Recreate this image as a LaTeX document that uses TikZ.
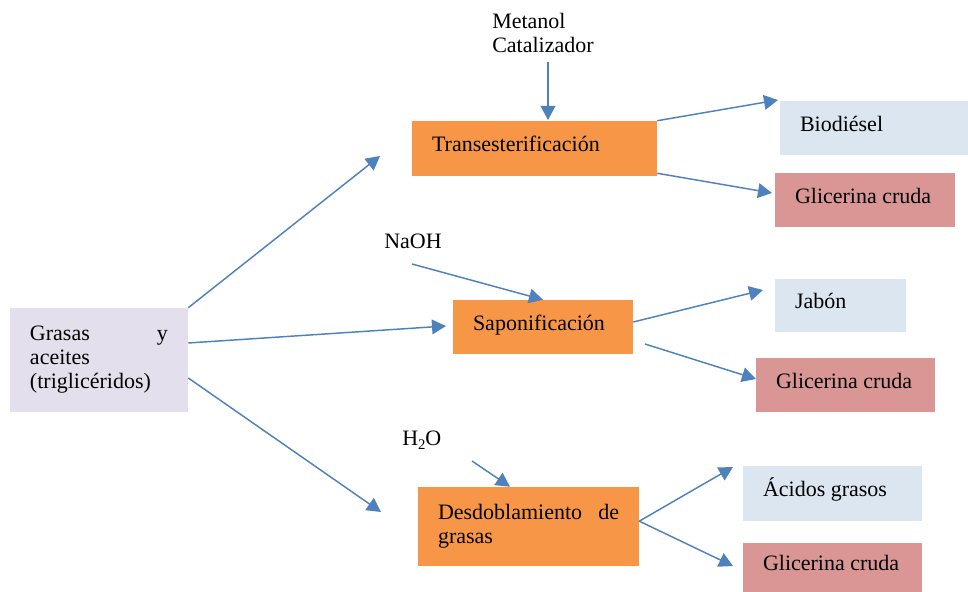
\documentclass[tikz,border=0pt]{standalone}
\usepackage{fontspec}
\setmainfont{Liberation Serif}
\usetikzlibrary{arrows.meta}
\definecolor{arrowblue}{HTML}{4F81BD}
\definecolor{feedlilac}{HTML}{E4DFEC}
\definecolor{procorange}{HTML}{F79646}
\definecolor{prodblue}{HTML}{DCE6F1}
\definecolor{prodrose}{HTML}{DA9694}
\newcommand{\bodyfont}{\fontsize{16.5}{18}\selectfont}
\begin{document}
\begin{tikzpicture}[x=0.75pt,y=-0.75pt,
  every node/.style={font=\bodyfont, text=black},
  boxbase/.style={draw=none, inner xsep=15pt, inner ysep=0pt, align=flush left, anchor=center},
  oneline/.style={text height=8pt, text depth=2.8pt},
  feed/.style={boxbase, fill=feedlilac},
  proc/.style={boxbase, fill=procorange},
  prodb/.style={boxbase, oneline, fill=prodblue},
  prodr/.style={boxbase, oneline, fill=prodrose},
  reagent/.style={inner sep=0pt, align=flush left},
  flow/.style={draw=arrowblue, line width=1.1pt, -{Triangle[length=10.5pt,width=11pt]}}]
\useasboundingbox (0,0) rectangle (968,592);

% feedstock
\node[feed, text width=103.5pt, minimum height=78pt] (gr) at (99,360)
  {\makebox[\linewidth][s]{Grasas\hfill y}\\aceites\\(triglicéridos)};

% processes
\node[proc, oneline, text width=153.75pt, minimum height=41.25pt] (tr) at (534.5,148.5) {Transesterificación};
\node[proc, oneline, text width=105pt, minimum height=40.5pt] (sap) at (543,327) {Saponificación};
\node[proc, text width=135.75pt, minimum height=59.25pt] (des) at (528.5,526.5)
  {\makebox[\linewidth][s]{Desdoblamiento\hfill de}\\grasas};

% products
\node[prodb, text width=111pt, minimum height=40.5pt] (bio) at (874,128) {Biodiésel};
\node[prodr, text width=105pt, minimum height=40.5pt] (gl1) at (865,200) {Glicerina cruda};
\node[prodb, text width=68.25pt, minimum height=39.75pt] (jab) at (840.5,305.5) {Jabón};
\node[prodr, text width=104.25pt, minimum height=40.5pt] (gl2) at (845.5,385) {Glicerina cruda};
\node[prodb, text width=104.25pt, minimum height=41.25pt] (aci) at (832.5,493.5) {Ácidos grasos};
\node[prodr, text width=104.25pt, minimum height=36.75pt] (gl3) at (832.5,567.5) {Glicerina cruda};

% reagents
\node[reagent, anchor=north west] (meta) at (492,13) {Metanol\\Catalizador};
\node[reagent, anchor=base west] (naoh) at (384,248) {NaOH};
\node[reagent, anchor=base west] (water) at (402,445) {H\raisebox{-0.45ex}{\fontsize{11}{11}\selectfont 2}O};

% free arrow ends
\coordinate (t1) at (380,156);
\coordinate (t2) at (446,326);
\coordinate (t3) at (381,512);
\coordinate (m0) at (548,62);
\coordinate (m1) at (548,120);
\coordinate (b1) at (778,100);
\coordinate (c1) at (772,193);
\coordinate (n0) at (412,264);
\coordinate (j1) at (763,290);
\coordinate (s0) at (645,344);
\coordinate (g2) at (756,379);
\coordinate (w0) at (472,461);
\coordinate (a1) at (733,467);
\coordinate (g3) at (733,566);

% feedstock to processes
\draw[flow] (gr.north east) -- (t1);
\draw[flow] ([yshift=12.75pt]gr.east) -- (t2);
\draw[flow] ([yshift=-13.5pt]gr.east) -- (t3);

% reagent inputs
\draw[flow] (m0) -- (m1);
\draw[flow] (n0) -- (sap.north);
\draw[flow] (w0) -- ([xshift=-13.9pt]des.north);

% process outputs
\draw[flow] (tr.north east) -- (b1);
\draw[flow] ([yshift=2.25pt]tr.south east) -- (c1);
\draw[flow] ([yshift=3.75pt]sap.east) -- (j1);
\draw[flow] (s0) -- (g2);
\draw[flow] ([yshift=4pt]des.east) -- (a1);
\draw[flow] ([yshift=4pt]des.east) -- (g3);
\end{tikzpicture}
\end{document}
